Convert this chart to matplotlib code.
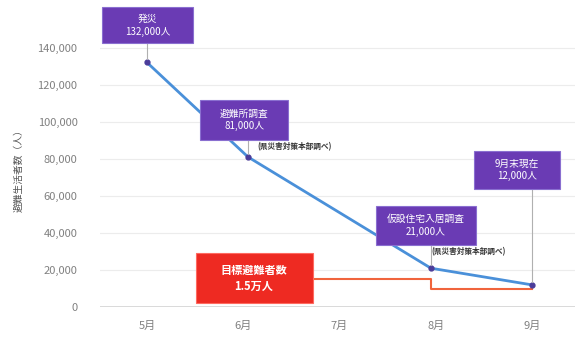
import matplotlib.pyplot as plt
from matplotlib.patches import Rectangle
from matplotlib.transforms import IdentityTransform
from matplotlib.ticker import FuncFormatter

plt.rcParams['font.family'] = ['Noto Sans CJK JP', 'DejaVu Sans']

# 月ごとの避難生活者数
months = ['5月', '6月', '7月', '8月', '9月']
survey_x = [0.0, 1.05, 2.95, 4.0]
survey_values = [132000, 81000, 21000, 12000]
survey_labels = ['発災\n132,000人', '避難所調査\n81,000人',
                 '仮設住宅入居調査\n21,000人', '9月末現在\n12,000人']
source_note = '(県災害対策本部調べ)'

# 目標値（階段状）
target_x = [1.72, 2.95, 2.95, 4.0]
target_values = [15000, 15000, 10000, 10000]
target_label = '目標避難者数\n1.5万人'

purple = '#6a3bb4'
blue = '#4a90d9'
red = '#ee2a22'
orange = '#f0643c'

fig = plt.figure(figsize=(5.87, 3.42), dpi=100)
ax = fig.add_axes([0.170, 0.102, 0.81, 0.813])

ax.set_xlim(-0.49, 4.45)
ax.set_ylim(0, 150000)
ax.set_yticks(range(0, 140001, 20000))
ax.yaxis.set_major_formatter(FuncFormatter(lambda v, p: f'{int(v):,}'))
ax.set_xticks(range(len(months)))
ax.set_xticklabels(months)
ax.tick_params(axis='both', length=0, labelsize=8, colors='#808080')
ax.tick_params(axis='x', pad=10)
ax.tick_params(axis='y', pad=16)
for s in ax.spines.values():
    s.set_visible(False)
ax.grid(axis='y', color='#ececec', linewidth=0.8)
ax.axhline(0, color='#d6d6d6', linewidth=2, zorder=1)
ax.set_ylabel('避難生活者数（人）', fontsize=7, color='#555555', labelpad=10)

# 目標ライン
ax.plot(target_x, target_values, color=orange, linewidth=1.5, zorder=2)

# 推移
ax.plot(survey_x, survey_values, color=blue, linewidth=2, zorder=3)
ax.plot(survey_x, survey_values, 'o', color='#4b3c9a', markersize=3.5, zorder=4)

px_tr = IdentityTransform()


def label_box(x, v, text, dx, dy, w, h, fc, ec, size, weight='normal', connect=True):
    # 点からのピクセルオフセットで枠付きラベルを置く
    px, py = ax.transData.transform((x, v))
    cx, cy = px + dx, py + dy
    ax.add_patch(Rectangle((cx - w / 2, cy - h / 2), w, h, transform=px_tr,
                           fc=fc, ec=ec, lw=0.8, zorder=6, clip_on=False))
    ax.text(cx, cy, text, transform=px_tr, ha='center', va='center',
            color='white', fontsize=size, fontweight=weight, linespacing=1.35,
            zorder=7, clip_on=False)
    if connect:
        ax.plot([px, px], [cy - h / 2, py + 3], transform=px_tr,
                color='#b0b0b0', lw=0.8, zorder=5, clip_on=False)


box_specs = [(1, 37, 91, 36), (-4, 37, 88, 40), (-5, 43, 100, 39), (-15, 115, 86, 38)]
for x, v, lab, (dx, dy, w, h) in zip(survey_x, survey_values, survey_labels, box_specs):
    label_box(x, v, lab, dx, dy, w, h, purple, '#8a6fd0', 7)

for x, v, off in [(survey_x[1], survey_values[1], (47, 10)),
                  (survey_x[2], survey_values[2], (38, 16))]:
    ax.annotate(source_note, xy=(x, v), xytext=off, textcoords='offset pixels',
                ha='center', va='center', fontsize=5.5, fontweight='bold',
                color='#333333', zorder=6)

label_box(target_x[0], target_values[0], target_label, -58.5, 1, 117, 50,
          red, '#ff6a60', 8, weight='bold', connect=False)

fig.savefig('out.png', dpi=100)
